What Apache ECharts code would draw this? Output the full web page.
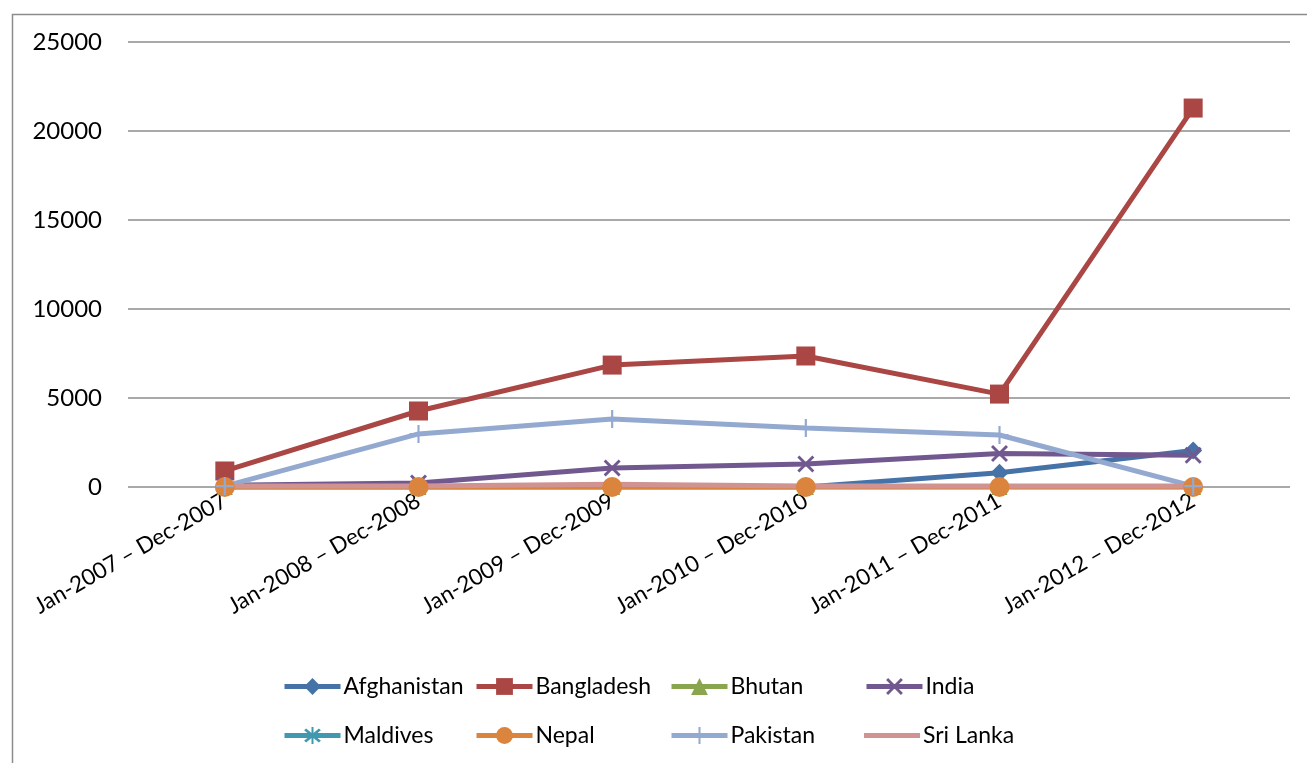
<!DOCTYPE html>
<html><head><meta charset="utf-8">
<script src="https://cdn.jsdelivr.net/npm/echarts@6/dist/echarts.min.js"></script>
<style>html,body{margin:0;padding:0;background:#fff}#c{width:1307px;height:763px}</style>
</head><body><div id="c"></div>
<script>
var categories = ['Jan-2007 – Dec-2007','Jan-2008 – Dec-2008','Jan-2009 – Dec-2009','Jan-2010 – Dec-2010','Jan-2011 – Dec-2011','Jan-2012 – Dec-2012'];
var afghanistan = [0, 0, 0, 0, 800, 2050];
var bangladesh = [900, 4270, 6850, 7360, 5220, 21290];
var bhutan = [0, 0, 0, 0, 0, 0];
var india = [100, 220, 1070, 1290, 1880, 1780];
var maldives = [0, 0, 0, 0, 0, 0];
var nepal = [0, 0, 0, 0, 0, 0];
var pakistan = [50, 2980, 3820, 3320, 2920, 50];
var sriLanka = [50, 50, 150, 50, 50, 50];
var yTicks = [0, 5000, 10000, 15000, 20000, 25000];

var FONT = 'Lato';
var X = 'path://M0,1.2L1.2,0L10,8.8L8.8,10Z M8.8,0L10,1.2L1.2,10L0,8.8Z';
var PLUS = 'path://M4.4,0H5.6V10H4.4Z M0,4.4H10V5.6H0Z';
var STAR = 'path://M0,1.2L1.2,0L10,8.8L8.8,10Z M8.8,0L10,1.2L1.2,10L0,8.8Z M4.4,-1H5.6V11H4.4Z';
var LINEICON = 'path://M0,0L0.01,0L0,0.01Z M0,20L0.01,20L0,19.99Z M0,7.5H55V12.5H0Z';

function s(name, data, color, symbol, size) {
  return {
    name: name, type: 'line', data: data, symbol: symbol, symbolSize: size,
    showSymbol: symbol !== 'none',
    lineStyle: {color: color, width: 5},
    itemStyle: {color: color},
    emphasis: {disabled: true}, animation: false
  };
}
var series = [
  s('Afghanistan', afghanistan, '#4572A7', 'diamond', 18),
  s('Bangladesh', bangladesh, '#AA4643', 'rect', 19),
  s('Bhutan', bhutan, '#89A54E', 'triangle', 16),
  s('India', india, '#71588F', X, 17),
  s('Maldives', maldives, '#4198AF', STAR, 16),
  s('Nepal', nepal, '#DB843D', 'circle', 20),
  s('Pakistan', pakistan, '#93A9CF', PLUS, 18),
  s('Sri Lanka', sriLanka, '#D19392', 'none', 0)
];
var names = ['Afghanistan','Bangladesh','Bhutan','India','Maldives','Nepal','Pakistan','Sri Lanka'];
var lefts = [282, 474, 669, 864];
var legends = names.map(function(n, i) {
  var isLine = n === 'Sri Lanka';
  return {
    data: isLine ? [{name: n, icon: LINEICON}] : [n],
    left: lefts[i % 4], top: i < 4 ? 675 : 724, padding: 0,
    itemWidth: 56, itemHeight: 21, itemGap: 0,
    lineStyle: {width: 5},
    textStyle: {fontFamily: FONT, fontSize: 23, color: '#000', padding: [0, 0, 0, -2]},
    selectedMode: false
  };
});

var chart = echarts.init(document.getElementById('c'));
chart.setOption({
  animation: false,
  backgroundColor: '#fff',
  graphic: [{type: 'rect', left: 10, top: 12, shape: {width: 1310, height: 770},
    style: {fill: 'none', stroke: '#8c8c8c', lineWidth: 1.5}, silent: true}],
  grid: {left: 128, right: 17, top: 42, bottom: 276},
  legend: legends,
  xAxis: {
    type: 'category', data: categories, boundaryGap: true,
    axisLine: {show: false}, axisTick: {show: false},
    axisLabel: {rotate: 30, margin: 12, fontFamily: FONT, fontSize: 22.5, color: '#000', interval: 0}
  },
  yAxis: {
    type: 'value', min: yTicks[0], max: yTicks[yTicks.length - 1], interval: 5000,
    axisLine: {show: false}, axisTick: {show: false},
    splitLine: {lineStyle: {color: '#8c8c8c', width: 1.5}},
    axisLabel: {margin: 26, fontFamily: FONT, fontSize: 24, color: '#000',
      formatter: function(v) { return String(v); }}
  },
  series: series
});
</script></body></html>
